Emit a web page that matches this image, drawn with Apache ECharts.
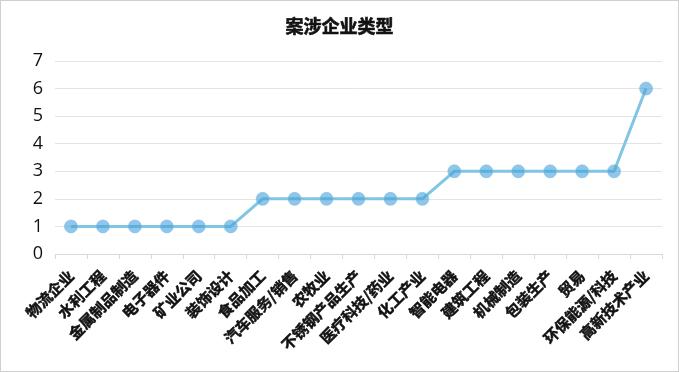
<!DOCTYPE html>
<html><head><meta charset="utf-8">
<script src="https://cdn.jsdelivr.net/npm/echarts@6/dist/echarts.min.js"></script>
<style>html,body{margin:0;padding:0;background:#fff}#c{width:679px;height:372px;box-sizing:border-box;border:1px solid #d0d0d0}</style>
</head><body><div id="c"></div>
<script>
const categories = ['物流企业','水利工程','金属制品制造','电子器件','矿业公司','装饰设计','食品加工','汽车服务/销售','农牧业','不锈钢产品生产','医疗科技/药业','化工产业','智能电器','建筑工程','机械制造','包装生产','贸易','环保能源/科技','高新技术产业'];
const values = [1,1,1,1,1,1,2,2,2,2,2,2,3,3,3,3,3,3,6];
const yTicks = [0,1,2,3,4,5,6,7];
const chart = echarts.init(document.getElementById('c'));
chart.setOption({
  animation:false,
  title:{text:'案涉企业类型',left:'center',top:11,textStyle:{fontFamily:'Noto Sans CJK SC',fontWeight:'bold',fontSize:18,color:'#111',textBorderColor:'#111',textBorderWidth:0.6}},
  grid:{left:54,right:16,top:60,bottom:117},
  xAxis:{type:'category',data:categories,boundaryGap:true,
    axisLine:{lineStyle:{color:'#d9d9d9',width:1}},
    axisTick:{show:true,length:5,lineStyle:{color:'#d9d9d9'}},
    axisLabel:{rotate:45,interval:0,margin:19,fontFamily:'Noto Sans CJK SC',fontWeight:'bold',fontSize:15,color:'#111',textBorderColor:'#111',textBorderWidth:0.5}},
  yAxis:{type:'value',min:yTicks[0],max:yTicks[yTicks.length-1],interval:1,
    axisLine:{show:false},axisTick:{show:false},
    splitLine:{lineStyle:{color:'#e4e4e4'}},
    axisLabel:{fontFamily:'Open Sans',fontSize:18,color:'#111',margin:12}},
  series:[{type:'line',data:values,symbol:'circle',symbolSize:13,
    lineStyle:{color:'#80c6e3',width:3},
    itemStyle:{color:'rgba(70,160,215,0.6)',borderColor:'rgba(120,190,230,0.6)',borderWidth:1}}]
});
</script></body></html>
